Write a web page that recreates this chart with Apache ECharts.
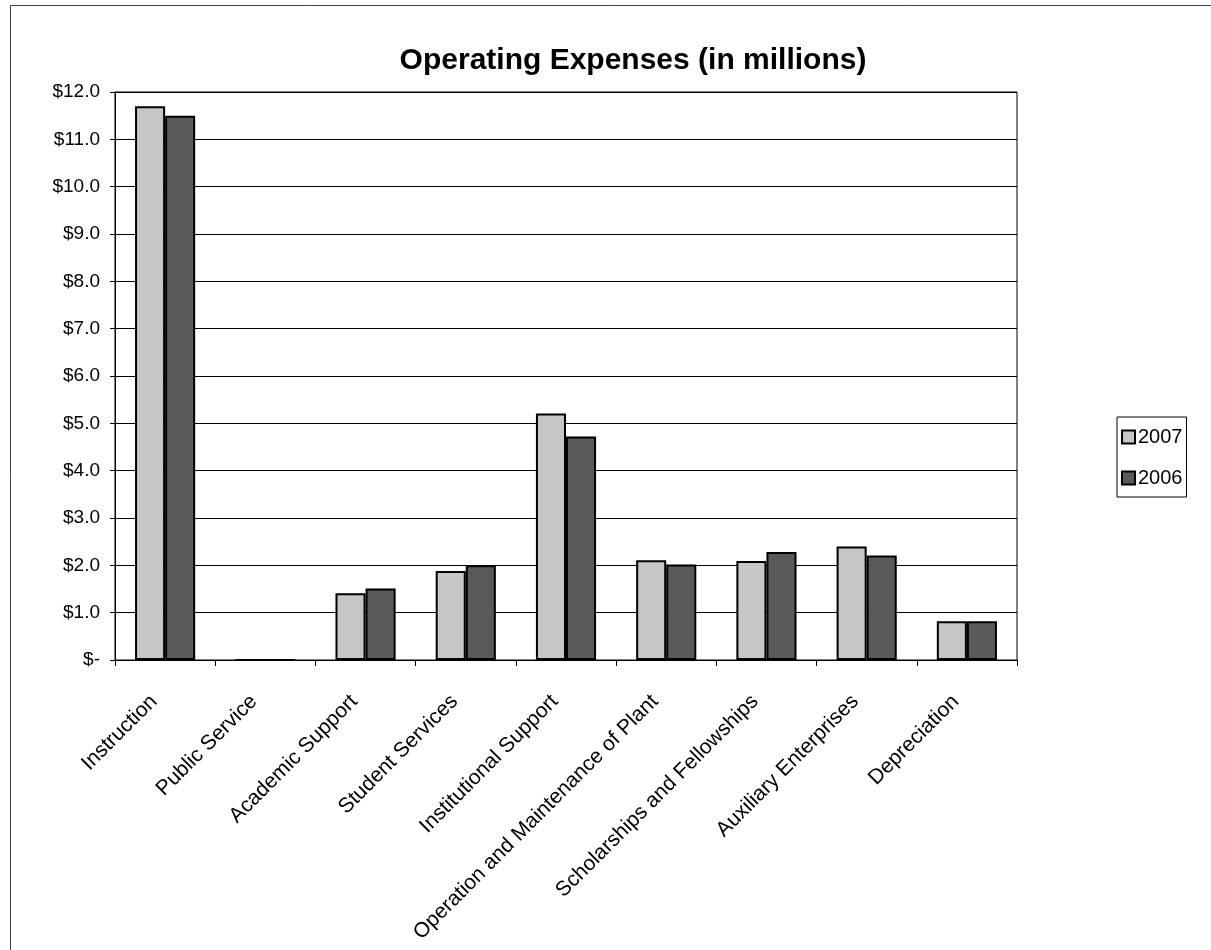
<!DOCTYPE html>
<html>
<head>
<meta charset="utf-8">
<script src="https://cdn.jsdelivr.net/npm/echarts@6/dist/echarts.min.js"></script>
<style>
html,body{margin:0;padding:0;background:#fff;}
#chart{width:1211px;height:950px;}
</style>
</head>
<body>
<div id="chart"></div>
<script>
const categories = ["Instruction","Public Service","Academic Support","Student Services","Institutional Support","Operation and Maintenance of Plant","Scholarships and Fellowships","Auxiliary Enterprises","Depreciation"];
const values2007 = [11.7, 0, 1.41, 1.88, 5.21, 2.11, 2.09, 2.40, 0.82];
const values2006 = [11.5, 0, 1.51, 2.00, 4.72, 2.02, 2.28, 2.21, 0.82];
const seriesNames = ["2007", "2006"];

const FONT = 'Arial, "Liberation Sans", sans-serif';
const chart = echarts.init(document.getElementById('chart'), null, {renderer:'canvas'});
chart.setOption({
  animation: false,
  backgroundColor: '#fff',
  textStyle: {fontFamily: FONT, color: '#000'},
  title: {
    text: 'Operating Expenses (in millions)',
    left: 628, top: 41, textAlign: 'center',
    textStyle: {fontFamily: FONT, fontSize: 30, fontWeight: 'bold', color: '#000'}
  },
  graphic: [{
    type: 'rect', left: 8, top: 3, silent: true,
    shape: {width: 1220, height: 960},
    style: {fill: 'none', stroke: '#444', lineWidth: 1}
  }],
  legend: {
    orient: 'vertical', left: 1117, top: 417,
    itemWidth: 13, itemHeight: 13, itemGap: 21,
    padding: [10, 4, 9, 4],
    borderColor: '#000', borderWidth: 1,
    icon: 'rect',
    textStyle: {fontFamily: FONT, fontSize: 20, color: '#000', padding: [0,0,0,-2]},
    data: seriesNames
  },
  grid: {left: 115, right: 194, top: 92, bottom: 290, show: true, borderColor: '#000', borderWidth: 1},
  xAxis: {
    type: 'category', data: categories,
    axisLine: {lineStyle: {color: '#000', width: 1}},
    axisTick: {show: true, length: 6, lineStyle: {color: '#000'}},
    axisLabel: {rotate: 45, interval: 0, fontFamily: FONT, fontSize: 21, color: '#000', margin: 27, padding: [0, 16, 0, 0]}
  },
  yAxis: {
    type: 'value', min: 0, max: 12, interval: 1,
    axisLine: {show: true, lineStyle: {color: '#000', width: 1}},
    axisTick: {show: true, length: 5, lineStyle: {color: '#000'}},
    splitLine: {lineStyle: {color: '#000', width: 1}},
    axisLabel: {
      fontFamily: FONT, fontSize: 19, color: '#000', margin: 15,
      formatter: v => v === 0 ? '$-' : '$' + v.toFixed(1)
    }
  },
  series: [
    {
      name: seriesNames[0], type: 'bar', data: values2007,
      barGap: '0%', barCategoryGap: '40%',
      itemStyle: {color: '#c6c6c6', borderColor: '#000', borderWidth: 2}
    },
    {
      name: seriesNames[1], type: 'bar', data: values2006,
      itemStyle: {color: '#5a5a5a', borderColor: '#000', borderWidth: 2}
    }
  ]
});
</script>
</body>
</html>
